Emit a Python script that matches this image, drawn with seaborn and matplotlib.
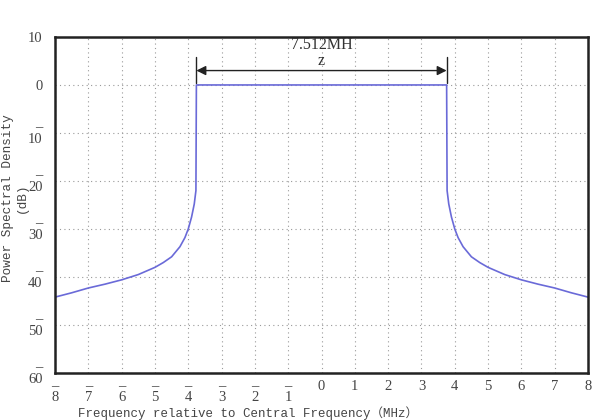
import numpy as np
import seaborn as sns
import matplotlib.pyplot as plt
import pandas as pd

# Datos (lado izquierdo, el derecho es simetrico)
freq_left = [-8.0, -7.5, -7.0, -6.5, -6.0, -5.5, -5.0, -4.75, -4.5, -4.25,
             -4.1, -4.0, -3.9, -3.82, -3.77, -3.756]
psd_left = [-44.2, -43.3, -42.3, -41.5, -40.6, -39.5, -38.0, -37.0, -35.8, -33.7,
            -31.8, -30.0, -27.5, -24.8, -22.0, 0.0]
freq = freq_left + [-f for f in freq_left[::-1]]
psd = psd_left + psd_left[::-1]

band_edge = 3.756
bw_label = "7.512MH"
bw_sub = "z"
x_ticks = list(range(-8, 9))
y_ticks = list(range(-60, 11, 10))

df = pd.DataFrame({"f": freq, "psd": psd})

sns.set_style("white")
plt.rcParams['font.family'] = ['Liberation Serif', 'Noto Sans CJK SC']

fig = plt.figure(figsize=(5.96, 4.2), dpi=100)
ax = fig.add_axes([0.0923, 0.112, 0.8943, 0.8])

sns.lineplot(data=df, x="f", y="psd", ax=ax, color="#6a6ad8", lw=1.2,
             estimator=None, sort=False)

ax.set_xlim(-8, 8)
ax.set_ylim(-60, 10)
ax.set_xticks(x_ticks)
ax.set_yticks(y_ticks)
ax.set_xticklabels([("\u2013\n%d" % -t) if t < 0 else str(t) for t in x_ticks],
                   fontsize=10.5, color="#444444", linespacing=0.85)
ax.set_yticklabels([("\u2013\n%d" % -t) if t < 0 else str(t) for t in y_ticks],
                   fontsize=10.5, color="#444444", linespacing=0.85)
ax.tick_params(direction="in", length=4, width=1, colors="#222222", labelcolor="#444444")
ax.tick_params(axis="x", pad=5)
ax.tick_params(axis="y", pad=9)

ax.grid(True, color="#999999", linestyle=(0, (1, 3)), lw=0.8)
for s in ax.spines.values():
    s.set_linewidth(1.8)
    s.set_color("#222222")

# flecha de ancho de banda
ax.annotate("", xy=(-band_edge, 3.0), xytext=(band_edge, 3.0),
            arrowprops=dict(arrowstyle="<|-|>", color="#222222", lw=1.0,
                            mutation_scale=14, shrinkA=0, shrinkB=0))
ax.plot([-band_edge, -band_edge], [0.5, 5.8], color="#222222", lw=1.0)
ax.plot([band_edge, band_edge], [0.5, 5.8], color="#222222", lw=1.0)
ax.text(0, 8.4, bw_label, ha="center", va="center", fontsize=11.5, color="#333333")
ax.text(0, 5.0, bw_sub, ha="center", va="center", fontsize=11.5, color="#333333")

mono = ['Liberation Mono', 'Noto Sans CJK SC']
ax.set_xlabel("")
ax.set_ylabel("Power Spectral Density\n(dB)", fontsize=9.2, color="#444444",
              linespacing=1.3, family=mono)
ax.yaxis.set_label_coords(-0.05, 0.52)
fig.text(248 / 596, 0, "Frequency relative to Central Frequency（MHz）",
         ha="center", va="bottom", fontsize=9, color="#444444", family=mono)

fig.savefig("out.png", dpi=100)
